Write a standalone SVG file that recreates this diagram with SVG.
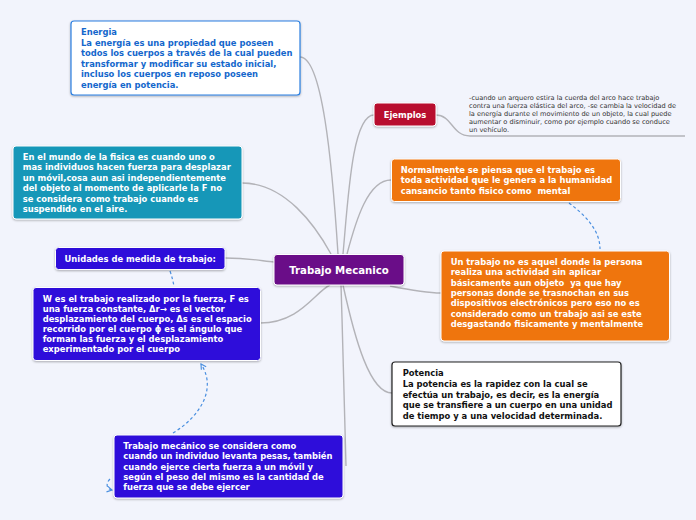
<svg xmlns="http://www.w3.org/2000/svg" width="696" height="520" viewBox="0 0 696 520">
<defs>
<style>
.t{font-family:"DejaVu Sans",Verdana,sans-serif;font-weight:bold;font-size:8.4px;fill:#fff}
.c{fill:none;stroke:#b3b3b8;stroke-width:1.4}
.d{fill:none;stroke:#4a8fe0;stroke-width:1.2;stroke-dasharray:3 2.5}
.box{stroke:#fff;stroke-width:1}
.note{font-family:"DejaVu Sans",Verdana,sans-serif;font-size:6.6px;fill:#333}
</style>
<filter id="sh" x="-5%" y="-10%" width="110%" height="130%">
<feDropShadow dx="0" dy="1" stdDeviation="0.8" flood-color="#000" flood-opacity="0.3"/>
</filter>
<marker id="ah" viewBox="0 0 10 10" refX="8" refY="5" markerWidth="6" markerHeight="6" orient="auto">
<path d="M1,1 L8,5 L1,9" fill="none" stroke="#4a8fe0" stroke-width="1.6"/>
</marker>
</defs>
<rect width="696" height="520" fill="#f2f4fc"/>
<g id="connectors">
<path class="c" d="M300,57 C322,57 332,160 338,254"/>
<path class="c" d="M242,183 C285,183 315,225 331,254"/>
<path class="c" d="M374,115 C352,115 348,200 343,254"/>
<path class="c" d="M391,180 C368,180 356,220 347,254"/>
<path class="c" d="M225,258 C250,258 262,261 274,262"/>
<path class="c" d="M260,323 C300,323 315,292 330,285"/>
<path class="c" d="M390,286 C410,290 425,293 441,293"/>
<path class="c" d="M343,285 C355,340 370,393 392,393"/>
<path class="c" d="M341,285 C343,350 345,420 346,466"/>
<path class="c" d="M436,115 C452,115 452,136 470,136 L685,136"/>
<path class="d" d="M569,203 C585,215 600,230 600,249"/>
<path class="d" d="M170,271 C172,277 173,281 174,286"/>
<path class="d" d="M173,433 C198,418 218,390 201,364" marker-end="url(#ah)"/>
<path class="d" d="M110,479 C105,484 107,489 112,490" marker-end="url(#ah)"/>
</g>
<g id="energia">
<rect x="71" y="21" width="229" height="74" rx="3" fill="#fff" stroke="#2b7fe0" stroke-width="1.2" filter="url(#sh)"/>
<text class="t" style="fill:#1467cc" x="81" y="35.3">
<tspan x="81">Energia</tspan>
<tspan x="81" dy="10.5">La energía es una propiedad que poseen</tspan>
<tspan x="81" dy="10.5">todos los cuerpos a través de la cual pueden</tspan>
<tspan x="81" dy="10.5">transformar y modificar su estado inicial,</tspan>
<tspan x="81" dy="10.5">incluso los cuerpos en reposo poseen</tspan>
<tspan x="81" dy="10.5">energía en potencia.</tspan>
</text>
</g>
<g id="mundo">
<rect class="box" x="13" y="146" width="229" height="73" rx="3" fill="#1697b8" filter="url(#sh)"/>
<text class="t" x="22.7" y="159.7">
<tspan x="22.7">En el mundo de la fisica es cuando uno o</tspan>
<tspan x="22.7" dy="10.46">mas individuos hacen fuerza para desplazar</tspan>
<tspan x="22.7" dy="10.46">un móvil,cosa aun asi independientemente</tspan>
<tspan x="22.7" dy="10.46">del objeto al momento de aplicarle la F no</tspan>
<tspan x="22.7" dy="10.46">se considera como trabajo cuando es</tspan>
<tspan x="22.7" dy="10.46">suspendido en el aire.</tspan>
</text>
</g>
<g id="unidades">
<rect class="box" x="55.5" y="247.5" width="169.5" height="22" rx="3" fill="#2f0fda" filter="url(#sh)"/>
<text class="t" x="140.2" y="261.5" text-anchor="middle">Unidades de medida de trabajo:</text>
</g>
<g id="wbox">
<rect class="box" x="33" y="287.5" width="227.5" height="73" rx="3" fill="#2f0fda" filter="url(#sh)"/>
<text class="t" x="42.7" y="302.3">
<tspan x="42.7">W es el trabajo realizado por la fuerza, F es</tspan>
<tspan x="42.7" dy="10">una fuerza constante, Δr→ es el vector</tspan>
<tspan x="42.7" dy="10">desplazamiento del cuerpo, Δs es el espacio</tspan>
<tspan x="42.7" dy="10">recorrido por el cuerpo ϕ es el ángulo que</tspan>
<tspan x="42.7" dy="10">forman las fuerza y el desplazamiento</tspan>
<tspan x="42.7" dy="10">experimentado por el cuerpo</tspan>
</text>
</g>
<g id="mecanico">
<rect class="box" x="114" y="435" width="229" height="63" rx="3" fill="#2f0fda" filter="url(#sh)"/>
<text class="t" x="123.3" y="449">
<tspan x="123.3">Trabajo mecánico se considera como</tspan>
<tspan x="123.3" dy="10.3">cuando un individuo levanta pesas, también</tspan>
<tspan x="123.3" dy="10.3">cuando ejerce cierta fuerza a un móvil y</tspan>
<tspan x="123.3" dy="10.3">según el peso del mismo es la cantidad de</tspan>
<tspan x="123.3" dy="10.3">fuerza que se debe ejercer</tspan>
</text>
</g>
<g id="central">
<rect class="box" x="274" y="254.5" width="130" height="30.5" rx="3" fill="#6b0a88" filter="url(#sh)"/>
<text class="t" style="font-size:10.2px" x="339" y="273.5" text-anchor="middle">Trabajo Mecanico</text>
</g>
<g id="ejemplos">
<rect class="box" x="374" y="103" width="62" height="23" rx="3" fill="#b8092d" filter="url(#sh)"/>
<text class="t" x="405" y="118" text-anchor="middle">Ejemplos</text>
</g>
<g id="ejemplos-nota">
<text class="note" x="469" y="99.5">
<tspan x="469">-cuando un arquero estira la cuerda del arco hace trabajo</tspan>
<tspan x="469" dy="8.1">contra una fuerza elástica del arco, -se cambia la velocidad de</tspan>
<tspan x="469" dy="8.1">la energía durante el movimiento de un objeto, la cual puede</tspan>
<tspan x="469" dy="8.1">aumentar o disminuir, como por ejemplo cuando se conduce</tspan>
<tspan x="469" dy="8.1">un vehículo.</tspan>
</text>
</g>
<g id="normalmente">
<rect class="box" x="391.5" y="159" width="229" height="42.5" rx="3" fill="#ef7510" filter="url(#sh)"/>
<text class="t" x="400.7" y="173">
<tspan x="400.7">Normalmente se piensa que el trabajo es</tspan>
<tspan x="400.7" dy="10.3">toda actividad que le genera a la humanidad</tspan>
<tspan x="400.7" dy="10.3">cansancio tanto fisico como &#160;mental</tspan>
</text>
</g>
<g id="untrabajo">
<rect class="box" x="441" y="251" width="228.5" height="90" rx="3" fill="#ef7510" filter="url(#sh)"/>
<text class="t" x="450.7" y="265">
<tspan x="450.7">Un trabajo no es aquel donde la persona</tspan>
<tspan x="450.7" dy="10.35">realiza una actividad sin aplicar</tspan>
<tspan x="450.7" dy="10.35">básicamente aun objeto &#160;ya que hay</tspan>
<tspan x="450.7" dy="10.35">personas donde se trasnochan en sus</tspan>
<tspan x="450.7" dy="10.35">dispositivos electrónicos pero eso no es</tspan>
<tspan x="450.7" dy="10.35">considerado como un trabajo asi se este</tspan>
<tspan x="450.7" dy="10.35">desgastando fisicamente y mentalmente</tspan>
</text>
</g>
<g id="potencia">
<rect x="392" y="362" width="229" height="64" rx="3" fill="#fff" stroke="#222" stroke-width="1.2" filter="url(#sh)"/>
<text class="t" style="fill:#111" x="402.7" y="376.3">
<tspan x="402.7">Potencia</tspan>
<tspan x="402.7" dy="10.7">La potencia es la rapidez con la cual se</tspan>
<tspan x="402.7" dy="10.7">efectúa un trabajo, es decir, es la energía</tspan>
<tspan x="402.7" dy="10.7">que se transfiere a un cuerpo en una unidad</tspan>
<tspan x="402.7" dy="10.7">de tiempo y a una velocidad determinada.</tspan>
</text>
</g>
</svg>
